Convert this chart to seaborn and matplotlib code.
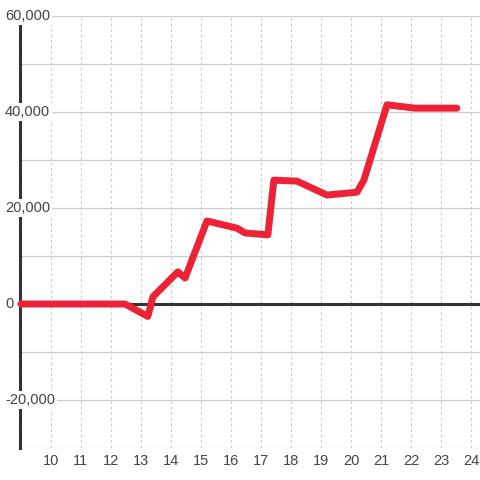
import matplotlib
matplotlib.use("Agg")
import matplotlib.pyplot as plt
import seaborn as sns
import pandas as pd

# values
hours = [9.0, 12.47, 13.23, 13.4, 14.23, 14.47, 15.2, 16.2, 16.47, 17.23, 17.43,
         18.2, 19.2, 20.2, 20.43, 21.2, 22.13, 23.53]
balance = [0, 0, -2600, 1500, 6700, 5400, 17300, 15800, 14800, 14400, 25800,
           25600, 22700, 23300, 25800, 41500, 40800, 40800]
y_ticks = [-30000, -20000, -10000, 0, 10000, 20000, 30000, 40000, 50000, 60000]
y_labels = ["", "-20,000", "", "0", "", "20,000", "", "40,000", "", "60,000"]
x_ticks = list(range(10, 25))

df = pd.DataFrame({"hour": hours, "balance": balance})

sns.set_theme(style="white")
plt.rcParams['font.family'] = ['Liberation Sans', 'DejaVu Sans']

fig = plt.figure(figsize=(4.8, 4.8), dpi=100)
ax = fig.add_axes([20 / 480, 32 / 480, 460 / 480, 432 / 480])

# grid: solid horizontal, dotted vertical
for y in y_ticks:
    ax.axhline(y, color="#cccccc", lw=0.9, zorder=0.5)
for x in range(9, 25):
    ax.axvline(x, color="#cccccc", lw=0.8, ls=(0, (2.5, 2.5)), zorder=0.5)

ax.axhline(0, color="#333333", lw=2.2, zorder=1)

sns.lineplot(data=df, x="hour", y="balance", ax=ax, color="#ee2236",
             lw=5, zorder=3, clip_on=False)

ax.set_xlim(8.97, 24.3)
ax.set_ylim(-30000, 60000)

for s in ["top", "right", "bottom"]:
    ax.spines[s].set_visible(False)
ax.spines["left"].set_color("#333333")
ax.spines["left"].set_linewidth(2.2)
ax.spines["left"].set_zorder(2)

ax.set_yticks([])
trans = ax.get_yaxis_transform()
for y, lab in zip(y_ticks, y_labels):
    if lab:
        ax.text(-15 / 460, y, lab, transform=trans, ha="left", va="center",
                fontsize=10.5, color="#444444", zorder=4, clip_on=False,
                bbox=dict(facecolor="white", edgecolor="none", pad=1.5))

ax.set_xticks(x_ticks)
ax.set_xticklabels([str(t) for t in x_ticks])
ax.tick_params(axis="x", length=0, pad=4, labelsize=10.5, labelcolor="#444444")
ax.set_xlabel("")
ax.set_ylabel("")

fig.savefig("out.png", dpi=100, facecolor="white")
